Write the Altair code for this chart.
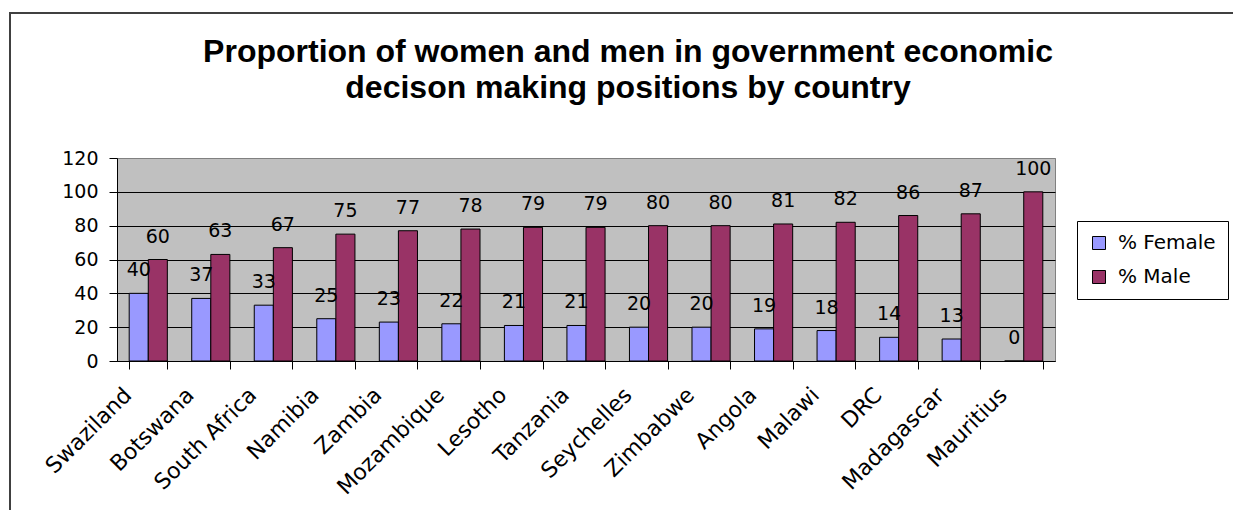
import altair as alt
import pandas as pd

countries = ["Swaziland", "Botswana", "South Africa", "Namibia", "Zambia", "Mozambique",
             "Lesotho", "Tanzania", "Seychelles", "Zimbabwe", "Angola", "Malawi", "DRC",
             "Madagascar", "Mauritius"]
female = [40, 37, 33, 25, 23, 22, 21, 21, 20, 20, 19, 18, 14, 13, 0]
male = [60, 63, 67, 75, 77, 78, 79, 79, 80, 80, 81, 82, 86, 87, 100]
series_names = ["% Female", "% Male"]
series_colors = ["#9999FF", "#993366"]
y_ticks = [0, 20, 40, 60, 80, 100, 120]
title_lines = ["Proportion of women and men in government economic",
               "decison making positions by country"]

rows = []
for c, f, m in zip(countries, female, male):
    rows.append({"country": c, "series": series_names[0], "value": f})
    rows.append({"country": c, "series": series_names[1], "value": m})
df = pd.DataFrame(rows)

x_enc = alt.X(
    "country:N", sort=countries,
    scale=alt.Scale(paddingInner=0.39, paddingOuter=0.195),
    axis=alt.Axis(title=None, labelAngle=-45, labelAlign="right", labelBaseline="top",
                  labelFont="DejaVu Sans", labelFontSize=22, labelColor="black",
                  labelOffset=-28, labelPadding=15, labelOverlap=False, labelLimit=300,
                  tickBand="extent", tickSize=8, tickColor="black", domainColor="black",
                  grid=False),
)
xo_enc = alt.XOffset("series:N", sort=series_names,
                     scale=alt.Scale(paddingInner=0, paddingOuter=0))
y_enc = alt.Y(
    "value:Q",
    scale=alt.Scale(domain=[0, 120], nice=False),
    axis=alt.Axis(title=None, values=y_ticks, labelFont="DejaVu Sans", labelFontSize=19,
                  labelColor="black", labelPadding=11, tickSize=8, tickColor="black",
                  domainColor="black", grid=True,
                  gridColor={"condition": {"test": "datum.value === 120", "value": "#808080"},
                             "value": "black"}),
)

bars = alt.Chart(df).mark_bar(stroke="black", strokeWidth=1).encode(
    x=x_enc, xOffset=xo_enc, y=y_enc,
    color=alt.Color("series:N",
                    scale=alt.Scale(domain=series_names, range=series_colors),
                    legend=alt.Legend(title=None, orient="none", legendX=960, legendY=63,
                                      padding=12, strokeColor="black", fillColor="white",
                                      symbolType="square", symbolSize=169,
                                      symbolStrokeColor="black", symbolStrokeWidth=1,
                                      labelFont="DejaVu Sans", labelFontSize=20,
                                      labelColor="black", rowPadding=14, labelOffset=9)),
)

labels = alt.Chart(df).mark_text(baseline="alphabetic", dy=-17, font="DejaVu Sans",
                                 fontSize=19, color="black").encode(
    x=x_enc, xOffset=xo_enc, y=y_enc, text=alt.Text("value:Q"),
)

one = alt.Data(values=[{}])
frame_left = alt.Chart(one).mark_rule(color="#404040", strokeWidth=2).encode(
    x=alt.value(-107), y=alt.value(-145), y2=alt.value(400))
frame_top = alt.Chart(one).mark_rule(color="#404040", strokeWidth=2).encode(
    x=alt.value(-108), x2=alt.value(1200), y=alt.value(-145))
title = alt.Chart(one).mark_text(text=title_lines, font="Liberation Sans", fontSize=32,
                                 fontWeight="bold", lineHeight=36, align="center",
                                 baseline="alphabetic", color="black").encode(
    x=alt.value(511), y=alt.value(-96))

chart = alt.layer(bars, labels, frame_left, frame_top, title).properties(
    width=938, height=203,
    padding={"left": 117, "top": 158, "right": 178, "bottom": 149},
    autosize=alt.AutoSizeParams(type="none"),
    background="white",
).configure_view(fill="#C0C0C0", stroke="#808080", strokeWidth=1)

chart.save("out.html", embed_options={"renderer": "svg", "actions": False})
